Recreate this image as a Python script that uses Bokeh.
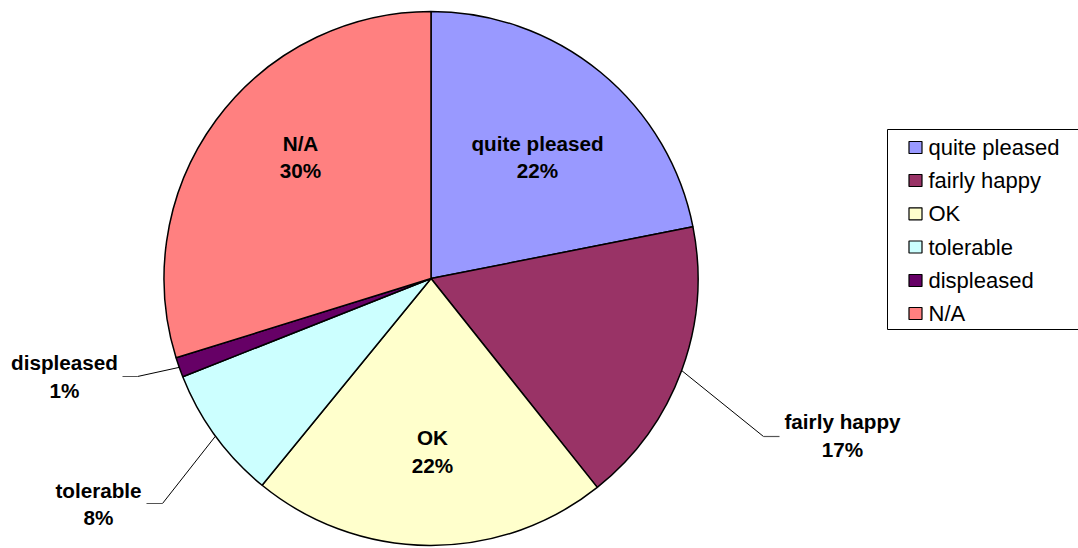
import math
from bokeh.plotting import figure
from bokeh.models import ColumnDataSource
from bokeh.core.properties import value
from bokeh.embed import file_html
from bokeh.resources import INLINE

# ---- data ----
categories = ["quite pleased", "fairly happy", "OK", "tolerable", "displeased", "N/A"]
shares = [21.9, 17.4, 21.6, 8.1, 1.2, 29.8]
colors = ["#9999FF", "#993366", "#FFFFCC", "#CCFFFF", "#660066", "#FF8080"]

# ---- layout (image pixel coordinates) ----
W, H = 1078, 548
def X(xi): return xi
def Y(yi): return H - yi

cx, cy, R = X(430.5), Y(278), 267
# label centres: (x, y line1, y line2)
label_pos = [(537, 143, 170), (842, 421, 449), (432, 437, 465),
             (98, 490, 517), (64, 362, 390), (300, 143, 170)]
# leader lines for outside labels: (elbow x, elbow y, end x)
leaders = {1: (763, 436, 779), 3: (162, 503, 146), 4: (137, 376, 122)}

p = figure(width=W, height=H, x_range=(0, W), y_range=(0, H),
           output_backend="svg", toolbar_location=None, min_border=0)
p.axis.visible = False
p.grid.visible = False
p.outline_line_color = None
p.background_fill_color = "white"

total = sum(shares)
cum = 0.0
starts, ends, mids = [], [], []
for s in shares:
    a0 = math.pi / 2 - 2 * math.pi * cum / total
    cum += s
    a1 = math.pi / 2 - 2 * math.pi * cum / total
    starts.append(a0); ends.append(a1); mids.append((a0 + a1) / 2)

src = ColumnDataSource(dict(x=[cx] * len(shares), y=[cy] * len(shares),
                            start=starts, end=ends, color=colors))
p.wedge(x="x", y="y", radius=R, start_angle="start", end_angle="end",
        direction="clock", fill_color="color", line_color="black",
        line_width=1.5, source=src)

# leader lines
for i, (ex, ey, tx) in leaders.items():
    sx = cx + R * math.cos(mids[i])
    sy = cy + R * math.sin(mids[i])
    p.line([sx, X(ex)], [sy, Y(ey)], line_color="black", line_width=1)
    p.line([X(ex), X(tx)], [Y(ey), Y(ey)], line_color="#555555", line_width=1.2)

# labels
for i, cat in enumerate(categories):
    lx, l1, l2 = label_pos[i]
    pct = f"{round(shares[i] / total * 100)}%"
    p.text(x=[X(lx)], y=[Y(l1)], text=[cat], text_align="center",
           text_baseline="middle", text_font=value("Liberation Sans"),
           text_font_style="bold", text_font_size="20.7px", text_color="black")
    p.text(x=[X(lx)], y=[Y(l2)], text=[pct], text_align="center",
           text_baseline="middle", text_font=value("Liberation Sans"),
           text_font_style="bold", text_font_size="20.7px", text_color="black")

# legend (manual)
bx0, by0, bx1, by1 = 887, 129, 1090, 329
p.quad(left=[X(bx0)], right=[X(bx1)], top=[Y(by0)], bottom=[Y(by1)],
       fill_color="white", line_color="black", line_width=1)
row_y = [147, 180, 213.3, 246.5, 280, 313]
for i, cat in enumerate(categories):
    yy = row_y[i]
    p.quad(left=[X(908.5)], right=[X(921.5)], top=[Y(yy - 6)], bottom=[Y(yy + 6)],
           fill_color=colors[i], line_color="black", line_width=1.2)
    p.text(x=[X(928)], y=[Y(yy)], text=[cat], text_align="left",
           text_baseline="middle", text_font=value("Liberation Sans"),
           text_font_size="22px", text_color="black")

open("out.html", "w").write(file_html(p, INLINE))
